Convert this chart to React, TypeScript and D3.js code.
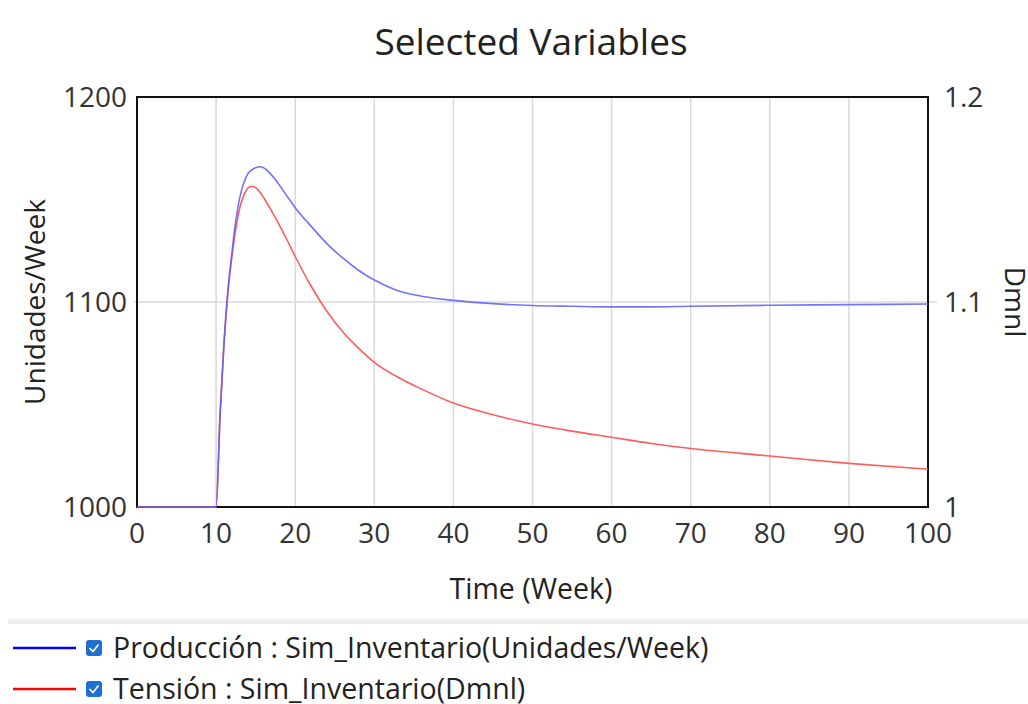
import React from "react";
import * as d3 from "d3";

const times = [0, 10, 10.5, 11, 11.5, 12, 12.5, 13, 13.5, 14, 14.5, 15, 15.5, 16, 17, 18, 19, 20, 22, 24, 26, 28, 30, 33, 36, 40, 45, 50, 55, 60, 65, 70, 80, 90, 100];
const produccion = [1000, 1000, 1045, 1080, 1106, 1124, 1140, 1151, 1158, 1162.5, 1164.5, 1165.5, 1166, 1165.5, 1162, 1157, 1151.5, 1146, 1137, 1128.5, 1121.5, 1115.5, 1110.7, 1105.5, 1102.8, 1100.8, 1099.2, 1098.3, 1097.9, 1097.6, 1097.6, 1097.9, 1098.4, 1098.7, 1099];
const tension = [1, 1, 1.045, 1.08, 1.105, 1.122, 1.136, 1.146, 1.152, 1.1555, 1.1565, 1.1558, 1.1538, 1.151, 1.1445, 1.1375, 1.13, 1.1222, 1.1078, 1.0955, 1.0855, 1.0775, 1.0706, 1.0633, 1.0575, 1.0507, 1.045, 1.0405, 1.037, 1.034, 1.031, 1.0285, 1.0249, 1.0213, 1.0184];

const xTicks = [0, 10, 20, 30, 40, 50, 60, 70, 80, 90, 100];
const yLeftTicks = [1000, 1100, 1200];
const yRightTicks = [1, 1.1, 1.2];
const yRightLabels = ["1", "1.1", "1.2"];

const title = "Selected Variables";
const xLabel = "Time (Week)";
const yLeftLabel = "Unidades/Week";
const yRightLabel = "Dmnl";
const legendItems = [
  { name: "Producción : Sim_Inventario(Unidades/Week)", color: "#0000ff" },
  { name: "Tensión : Sim_Inventario(Dmnl)", color: "#ff0000" },
];

const FONT = "'Open Sans', 'Noto Sans', sans-serif";

export default function App() {
  const W = 1028, H = 704;
  const left = 137, right = 928, top = 97, bottom = 507;
  const x = d3.scaleLinear().domain([0, 100]).range([left, right]);
  const yL = d3.scaleLinear().domain([1000, 1200]).range([bottom, top]);
  const yR = d3.scaleLinear().domain([1, 1.2]).range([bottom, top]);

  const blueData = times.map((t, i) => [t, produccion[i]] as [number, number]);
  const redData = times.map((t, i) => [t, tension[i]] as [number, number]);
  const lineL = d3.line<[number, number]>().x(d => x(d[0])).y(d => yL(d[1])).curve(d3.curveMonotoneX);
  const lineR = d3.line<[number, number]>().x(d => x(d[0])).y(d => yR(d[1])).curve(d3.curveMonotoneX);

  return (
    <svg width={W} height={H} style={{ position: "absolute", left: 0, top: 0, background: "#fff" }} fontFamily={FONT}>
      <rect x={0} y={0} width={W} height={H} fill="#fff" />
      <text x={531} y={55} textAnchor="middle" fontSize={37} fill="#222">{title}</text>

      {/* grid */}
      {xTicks.slice(1, -1).map(t => (
        <line key={"gx" + t} x1={x(t)} x2={x(t)} y1={top} y2={bottom} stroke="#d9d9d9" strokeWidth={1.5} />
      ))}
      {yLeftTicks.slice(1, -1).map(v => (
        <line key={"gy" + v} x1={left - 3} x2={right + 9} y1={yL(v)} y2={yL(v)} stroke="#d9d9d9" strokeWidth={1.5} />
      ))}

      {/* frame */}
      <rect x={left} y={top} width={right - left} height={bottom - top} fill="none" stroke="#111" strokeWidth={2} />

      {/* lines */}
      <path d={lineR(redData) || ""} fill="none" stroke="#ff5c5c" strokeWidth={1.6} />
      <path d={lineL(blueData) || ""} fill="none" stroke="#5a5aff" strokeWidth={1.6} strokeOpacity={0.85} />

      {/* left tick labels */}
      {yLeftTicks.map(v => (
        <text key={"yl" + v} x={127} y={yL(v)} dy="0.36em" textAnchor="end" fontSize={28} fill="#333">{v}</text>
      ))}
      {/* right tick labels */}
      {yRightTicks.map((v, i) => (
        <text key={"yr" + v} x={944} y={yR(v)} dy="0.36em" textAnchor="start" fontSize={28} fill="#333">{yRightLabels[i]}</text>
      ))}
      {/* x tick labels */}
      {xTicks.map(t => (
        <text key={"xt" + t} x={x(t)} y={543} textAnchor="middle" fontSize={28} fill="#333">{t}</text>
      ))}

      <text x={531} y={599} textAnchor="middle" fontSize={28.5} fill="#222">{xLabel}</text>
      <text transform={`translate(45,${(top + bottom) / 2}) rotate(-90)`} textAnchor="middle" fontSize={28} fill="#222">{yLeftLabel}</text>
      <text transform={`translate(1005,${(top + bottom) / 2}) rotate(90)`} textAnchor="middle" fontSize={28} fill="#222">{yRightLabel}</text>

      {/* legend separator */}
      <rect x={8} y={619} width={W - 8} height={5} fill="#eeeeee" />

      {legendItems.map((it, i) => {
        const cy = 648 + i * 41;
        return (
          <g key={it.name}>
            <line x1={13} x2={76} y1={cy} y2={cy} stroke={it.color} strokeWidth={2.5} />
            <rect x={86} y={cy - 8} width={16} height={16} rx={3} fill="#1f6fd1" />
            <path d={`M${89.5},${cy} l3.5,3.5 l5.5,-7`} fill="none" stroke="#fff" strokeWidth={1.7} />
            <text x={113} y={cy} dy="0.36em" fontSize={28.5} fill="#222">{it.name}</text>
          </g>
        );
      })}
    </svg>
  );
}
